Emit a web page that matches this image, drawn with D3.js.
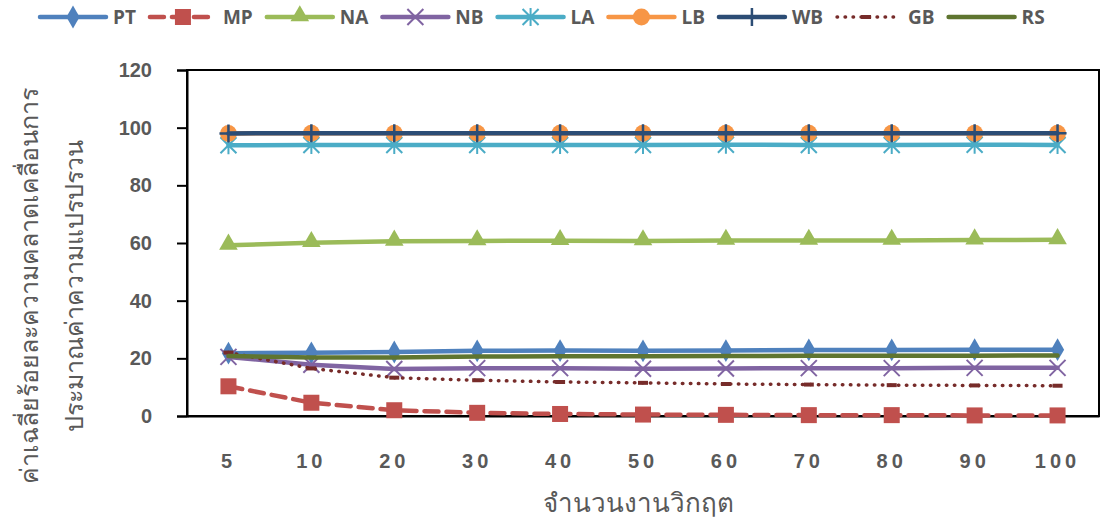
<!DOCTYPE html>
<html>
<head>
<meta charset="utf-8">
<script src="https://cdn.jsdelivr.net/npm/d3@7"></script>
<style>
  body { margin: 0; background: #fff; }
  svg { display: block; }
</style>
</head>
<body>
<div id="viz-container"></div>
<script>
let width = 1101;
let height = 520;

// data
let categories = ['5','10','20','30','40','50','60','70','80','90','100'];
let seriesNames = ['PT','MP','NA','NB','LA','LB','WB','GB','RS'];
let PT = [21.8, 21.9, 22.2, 22.6, 22.7, 22.6, 22.7, 22.9, 22.9, 23.0, 23.0];
let MP = [10.3, 4.6, 2.0, 1.1, 0.7, 0.5, 0.4, 0.3, 0.3, 0.2, 0.2];
let NA = [59.2, 60.1, 60.6, 60.7, 60.8, 60.7, 60.9, 60.9, 60.9, 61.0, 61.1];
let NB = [20.5, 17.8, 16.3, 16.6, 16.6, 16.4, 16.5, 16.6, 16.6, 16.7, 16.7];
let LA = [93.9, 94.0, 94.0, 94.0, 94.0, 94.0, 94.1, 94.0, 94.0, 94.1, 94.0];
let LB = [98.0, 98.1, 98.1, 98.1, 98.1, 98.1, 98.1, 98.1, 98.1, 98.1, 98.1];
let WB = [98.0, 98.1, 98.1, 98.1, 98.1, 98.1, 98.1, 98.1, 98.1, 98.1, 98.1];
let GB = [22.0, 16.5, 13.3, 12.4, 11.8, 11.5, 11.1, 10.9, 10.7, 10.6, 10.5];
let RS = [20.8, 20.3, 20.3, 20.6, 20.7, 20.7, 20.8, 20.9, 20.9, 20.9, 21.0];
let yTicks = [0, 20, 40, 60, 80, 100, 120];
let xTitle = 'จำนวนงานวิกฤต';
let yTitle = ['ค่าเฉลี่ยร้อยละความคลาดเคลื่อนการ', 'ประมาณค่าความแปรปรวน'];

let values = {PT: PT, MP: MP, NA: NA, NB: NB, LA: LA, LB: LB, WB: WB, GB: GB, RS: RS};

let styles = {
  PT: {color: '#4F81BD', dash: null, marker: 'diamond'},
  MP: {color: '#C0504D', dash: '14 8', marker: 'square'},
  NA: {color: '#9BBB59', dash: null, marker: 'triangle'},
  NB: {color: '#8064A2', dash: null, marker: 'x'},
  LA: {color: '#4BACC6', dash: null, marker: 'star'},
  LB: {color: '#F79646', dash: null, marker: 'circle'},
  WB: {color: '#2C4D75', dash: null, marker: 'plus'},
  GB: {color: '#772C2A', dash: 'dot', marker: 'dash'},
  RS: {color: '#5F7530', dash: null, marker: null}
};

let plot = {left: 187, right: 1099, top: 70, bottom: 416};
let textColor = '#595959';

let viz = d3.select('#viz-container')
  .append('svg')
  .attr('width', width)
  .attr('height', height);

let xScale = d3.scaleBand().domain(categories).range([plot.left, plot.right]);
let yScale = d3.scaleLinear().domain([0, 120]).range([plot.bottom, plot.top]);

// plot frame
viz.append('rect')
  .attr('x', plot.left)
  .attr('y', plot.top)
  .attr('width', plot.right - plot.left)
  .attr('height', plot.bottom - plot.top)
  .attr('fill', 'none')
  .attr('stroke', 'black')
  .attr('stroke-width', 2);

// y axis
let yAxis = d3.axisLeft(yScale).tickValues(yTicks).tickSize(10).tickPadding(25);
let yg = viz.append('g')
  .attr('transform', 'translate(' + plot.left + ',0)')
  .call(yAxis);
yg.select('.domain').attr('stroke', 'black').attr('stroke-width', 2);
yg.selectAll('.tick line').attr('stroke', 'black').attr('stroke-width', 2);
yg.selectAll('.tick text')
  .attr('fill', textColor)
  .attr('font-family', 'Liberation Sans, Arial, sans-serif')
  .attr('font-weight', 'bold')
  .attr('font-size', 20);

// x axis
let xAxis = d3.axisBottom(xScale).tickSize(0).tickPadding(38);
let xg = viz.append('g')
  .attr('transform', 'translate(0,' + plot.bottom + ')')
  .call(xAxis);
xg.select('.domain').attr('stroke', 'black').attr('stroke-width', 2);
xg.selectAll('.tick text')
  .attr('fill', textColor)
  .attr('font-family', 'Liberation Sans, Arial, sans-serif')
  .attr('font-weight', 'bold')
  .attr('font-size', 20)
  .attr('letter-spacing', 4);

// titles
viz.append('text')
  .text(xTitle)
  .attr('x', 638)
  .attr('y', 512)
  .attr('text-anchor', 'middle')
  .attr('fill', textColor)
  .attr('font-family', 'Noto Sans, DejaVu Sans, sans-serif')
  .attr('font-size', 26);

yTitle.forEach(function(t, i){
  viz.append('text')
    .text(t)
    .attr('transform', 'translate(' + (38 + i * 45) + ',' + 286 + ') rotate(-90)')
    .attr('text-anchor', 'middle')
    .attr('fill', textColor)
    .attr('font-family', 'Noto Sans, DejaVu Sans, sans-serif')
    .attr('font-size', 25);
});

function dashArray(s){
  if (s.dash === 'dot') return '0.5 7.5';
  return s.dash;
}

function drawMarker(g, type, color, x, y){
  if (type === 'diamond') {
    g.append('path').attr('d', d3.symbol(d3.symbolDiamond, 150)())
      .attr('transform', 'translate(' + x + ',' + y + ')').attr('fill', color);
  } else if (type === 'square') {
    g.append('rect').attr('x', x - 8).attr('y', y - 8).attr('width', 16).attr('height', 16)
      .attr('fill', color);
  } else if (type === 'triangle') {
    g.append('path').attr('d', d3.symbol(d3.symbolTriangle, 150)())
      .attr('transform', 'translate(' + x + ',' + (y - 1) + ')').attr('fill', color);
  } else if (type === 'x') {
    g.append('path').attr('d', 'M-8,-8L8,8M-8,8L8,-8')
      .attr('transform', 'translate(' + x + ',' + y + ')')
      .attr('stroke', color).attr('stroke-width', 2).attr('fill', 'none');
  } else if (type === 'star') {
    g.append('path').attr('d', 'M-8,-8L8,8M-8,8L8,-8M0,-9L0,9')
      .attr('transform', 'translate(' + x + ',' + y + ')')
      .attr('stroke', color).attr('stroke-width', 2).attr('fill', 'none');
  } else if (type === 'circle') {
    g.append('circle').attr('cx', x).attr('cy', y).attr('r', 8.5).attr('fill', color);
  } else if (type === 'plus') {
    g.append('path').attr('d', 'M-9,0L9,0M0,-9L0,9')
      .attr('transform', 'translate(' + x + ',' + y + ')')
      .attr('stroke', color).attr('stroke-width', 2.5).attr('fill', 'none');
  } else if (type === 'dash') {
    g.append('path').attr('d', 'M-5,0L5,0')
      .attr('transform', 'translate(' + x + ',' + y + ')')
      .attr('stroke', color).attr('stroke-width', 4).attr('fill', 'none');
  }
}

let line = d3.line()
  .x(function(d, i){ return xScale(categories[i]) + xScale.bandwidth() / 2; })
  .y(function(d){ return yScale(d); });

seriesNames.forEach(function(name){
  let s = styles[name];
  let g = viz.append('g').attr('class', 'series');
  g.append('path')
    .datum(values[name])
    .attr('d', line)
    .attr('fill', 'none')
    .attr('stroke', s.color)
    .attr('stroke-width', s.dash === 'dot' ? 3.5 : 4.5)
    .attr('stroke-linecap', 'round')
    .attr('stroke-dasharray', dashArray(s));
  if (s.marker) {
    values[name].forEach(function(v, i){
      drawMarker(g, s.marker, s.color,
        xScale(categories[i]) + xScale.bandwidth() / 2, yScale(v));
    });
  }
});

// legend
let lx = 40;
let ly = 17;
seriesNames.forEach(function(name){
  let s = styles[name];
  let g = viz.append('g').attr('class', 'legend');
  let lineLen = (name === 'GB') ? 58 : 66;
  g.append('line')
    .attr('x1', lx).attr('x2', lx + lineLen)
    .attr('y1', ly).attr('y2', ly)
    .attr('stroke', s.color)
    .attr('stroke-width', s.dash === 'dot' ? 3.5 : 4.5)
    .attr('stroke-linecap', 'round')
    .attr('stroke-dasharray', dashArray(s));
  if (s.marker) drawMarker(g, s.marker, s.color, lx + lineLen / 2, ly);
  let t = g.append('text')
    .text(name)
    .attr('x', lx + lineLen + (name === 'GB' ? 13 : 7))
    .attr('y', ly + 7)
    .attr('fill', textColor)
    .attr('font-family', 'Open Sans, sans-serif')
    .attr('font-weight', 'bold')
    .attr('font-size', 19);
  let w = t.node().getComputedTextLength();
  lx = lx + lineLen + (name === 'GB' ? 13 : 7) + w + 14;
});
</script>
</body>
</html>
